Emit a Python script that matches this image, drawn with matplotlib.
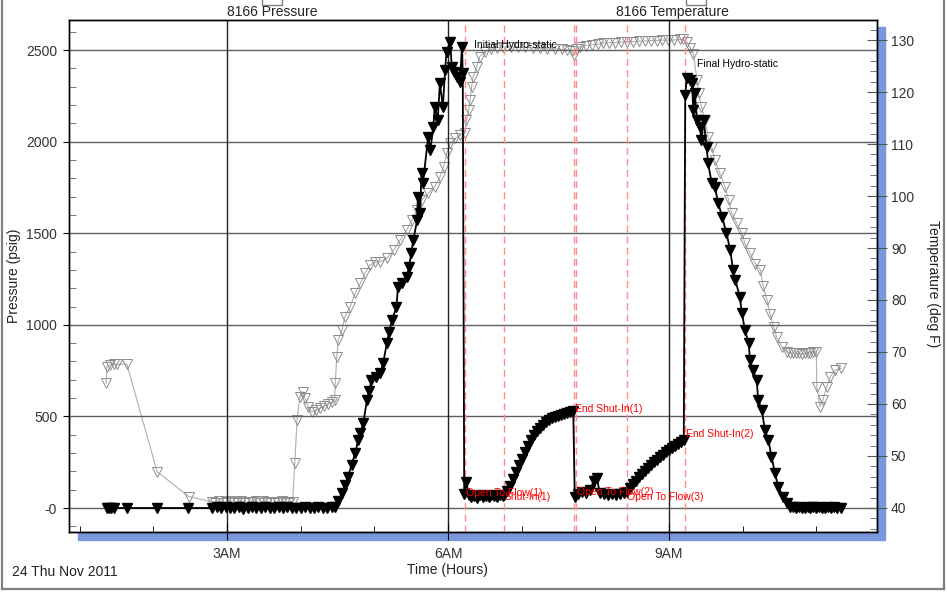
import matplotlib

matplotlib.use("Agg")
import matplotlib.pyplot as plt  # noqa: E402
from matplotlib.lines import Line2D  # noqa: E402
from matplotlib.patches import Rectangle  # noqa: E402
from matplotlib.ticker import FuncFormatter, MultipleLocator  # noqa: E402

plt.rcParams["font.family"] = ["Liberation Sans", "DejaVu Sans"]

# ---- pressure gauge 8166 (hours, psig), by test phase ----
pre_t = [1.37, 1.40, 1.43, 1.46, 1.64, 2.05, 2.47]
pre_p = [0, 0, 0, 0, 0, 0, 0]

surf_t = [2.80, 2.86, 2.92, 2.98, 3.04, 3.10, 3.16, 3.22, 3.28, 3.34, 3.40, 3.46, 3.52, 3.58,
          3.64, 3.70, 3.76, 3.82, 3.88, 3.94, 4.00, 4.06, 4.12, 4.18, 4.24, 4.30, 4.36, 4.42]
surf_p = [0, 3, -2, 5, 0, 2, 4, -3, 0, 3, 1, -2, 4, 0, 2, 5, -1, 3, 0, 2, -2, 4, 1, 0, 3, -1, 2, 5]

runin_t = [4.47, 4.51, 4.56, 4.60, 4.64, 4.69, 4.74, 4.78, 4.81, 4.85, 4.90, 4.93, 4.96, 5.02, 5.08,
           5.12, 5.17, 5.20, 5.24, 5.30, 5.32, 5.38, 5.44, 5.47, 5.50, 5.53, 5.58, 5.59, 5.62, 5.64,
           5.66, 5.73, 5.76, 5.80, 5.82, 5.86, 5.89, 5.93, 5.96, 5.98, 6.03, 6.05, 6.08, 6.12, 6.16,
           6.19, 6.20]
runin_p = [5, 40, 82, 125, 169, 235, 300, 371, 410, 464, 590, 640, 699, 715, 737,
           791, 901, 960, 1026, 1097, 1206, 1230, 1261, 1315, 1390, 1463, 1572, 1698, 1610, 1829,
           1774, 2025, 1954, 2080, 2189, 2118, 2320, 2189, 2391, 2491, 2545, 2409, 2380, 2354, 2327,
           2518, 2374]

flow1_t = [6.22, 6.25, 6.28, 6.31, 6.35, 6.39, 6.43, 6.47, 6.51, 6.55, 6.59, 6.63, 6.67, 6.71, 6.74]
flow1_p = [75, 143, 70, 60, 66, 55, 71, 62, 68, 58, 71, 64, 60, 70, 66]

shut1_t = [6.76, 6.80, 6.84, 6.88, 6.92, 6.96, 7.00, 7.05, 7.09, 7.13, 7.17, 7.21,
           7.25, 7.29, 7.33, 7.37, 7.41, 7.45, 7.49, 7.53, 7.57, 7.62, 7.66, 7.70]
shut1_p = [71, 93, 120, 158, 197, 235, 268, 306, 338, 371, 398, 420,
           437, 453, 469, 480, 491, 497, 502, 508, 513, 519, 524, 530]

flow2_t = [7.72, 7.77, 7.82, 7.87, 7.93, 7.98, 8.02, 8.06, 8.12, 8.17, 8.23, 8.28, 8.34, 8.39]
flow2_p = [60, 76, 87, 80, 100, 150, 164, 82, 76, 72, 76, 71, 76, 82]

shut2_t = [8.43, 8.47, 8.51, 8.55, 8.59, 8.63, 8.67, 8.72, 8.76, 8.80,
           8.84, 8.88, 8.92, 8.96, 9.00, 9.04, 9.08, 9.12, 9.16, 9.20]
shut2_p = [87, 109, 131, 147, 169, 186, 202, 218, 235, 251,
           262, 278, 289, 306, 317, 328, 338, 349, 360, 371]

pull_t = [9.22, 9.24, 9.29, 9.31, 9.33, 9.35, 9.38, 9.42, 9.44, 9.47, 9.51, 9.53, 9.58, 9.62,
          9.67, 9.72, 9.78, 9.83, 9.87, 9.90, 9.96, 9.99, 10.03, 10.08, 10.10, 10.14, 10.19,
          10.21, 10.26, 10.30, 10.35, 10.39, 10.44, 10.48, 10.55, 10.60, 10.64]
pull_p = [2255, 2346, 2336, 2318, 2173, 2264, 2118, 2082, 2009, 2118, 1972, 1882, 1773, 1754,
          1663, 1590, 1500, 1408, 1299, 1245, 1153, 1063, 971, 899, 808, 753, 699,
          590, 535, 426, 371, 280, 189, 116, 62, 30, 7]

post_t = [10.68, 10.72, 10.76, 10.80, 10.84, 10.88, 10.92, 10.96, 11.00, 11.04, 11.08,
          11.12, 11.16, 11.20, 11.24, 11.28, 11.34]
post_p = [3, 0, 5, 2, 0, 4, 1, 3, 0, 5, 2, 0, 3, 1, 4, 0, 2]

# ---- temperature gauge 8166 (hours, deg F) ----
tpre_t = [1.36, 1.37, 1.41, 1.46, 1.50, 1.64, 2.05, 2.48]
tpre_v = [64.0, 67.2, 67.5, 67.7, 67.6, 67.7, 47.0, 42.2]

tsurf_t = [2.79, 2.84, 2.89, 2.94, 2.99, 3.04, 3.09, 3.14, 3.19, 3.24, 3.29, 3.34,
           3.39, 3.44, 3.49, 3.54, 3.59, 3.64, 3.69, 3.74, 3.79, 3.84, 3.89]
tsurf_v = [41.2, 41.0, 41.3, 40.9, 41.1, 41.4, 41.0, 41.2, 41.3, 40.9, 41.1, 41.2,
           41.4, 41.0, 41.3, 41.1, 40.9, 41.2, 41.0, 41.3, 41.1, 40.9, 41.2]

trun_t = [3.92, 3.95, 3.99, 4.03, 4.06, 4.10, 4.15, 4.21, 4.26, 4.32, 4.37, 4.43, 4.46, 4.47,
          4.49, 4.51, 4.56, 4.60, 4.67, 4.74, 4.81, 4.87, 4.94, 5.01, 5.08, 5.17, 5.26, 5.35,
          5.44, 5.51, 5.58, 5.64, 5.73, 5.82, 5.89, 5.94, 5.98, 6.03, 6.10, 6.16, 6.23, 6.25,
          6.28, 6.30, 6.32, 6.34, 6.39, 6.43, 6.50]
trun_v = [48.6, 56.9, 61.4, 62.4, 61.1, 59.5, 58.5, 58.8, 59.2, 59.6, 60.0, 60.4, 60.8, 64.0,
          69.1, 72.3, 74.2, 76.8, 78.7, 81.3, 83.2, 85.1, 86.7, 87.3, 87.4, 88.0, 89.6, 91.5,
          93.5, 95.4, 97.3, 99.2, 100.5, 101.8, 103.7, 105.6, 108.2, 110.1, 111.1, 111.7, 112.1,
          114.6, 116.5, 118.5, 121.0, 122.9, 124.9, 126.8, 127.75]

tbot_t = [6.58, 6.66, 6.75, 6.85, 6.95, 7.05, 7.15, 7.25, 7.35, 7.45, 7.55, 7.62, 7.68, 7.71,
          7.75, 7.79, 7.87, 7.95, 8.03, 8.11, 8.19, 8.27, 8.35, 8.43, 8.51, 8.59, 8.67, 8.75,
          8.83, 8.91, 8.99, 9.07, 9.15, 9.19, 9.24, 9.29]
tbot_v = [128.2, 128.5, 128.7, 128.7, 128.6, 128.6, 128.5, 128.4, 128.3, 128.3, 128.2, 128.1,
          127.8, 127.1, 128.2, 128.7, 128.9, 129.1, 129.2, 129.4, 129.5, 129.5, 129.6, 129.7,
          129.7, 129.8, 129.8, 129.9, 129.9, 130.0, 130.0, 130.0, 130.1, 130.1, 129.7, 128.4]

tpull_t = [9.33, 9.38, 9.40, 9.44, 9.49, 9.53, 9.58, 9.62, 9.69, 9.76, 9.81, 9.85, 9.92, 9.99,
           10.03, 10.10, 10.17, 10.24, 10.28, 10.33, 10.37, 10.42, 10.46, 10.53, 10.60, 10.64,
           10.68, 10.72, 10.76, 10.80, 10.84, 10.88, 10.92, 10.96, 11.00, 11.005, 11.05, 11.09,
           11.14, 11.19, 11.25, 11.34]
tpull_v = [127.4, 122.3, 119.75, 117.2, 114.6, 111.4, 109.5, 106.9, 104.4, 101.8, 99.2, 96.7,
           94.75, 92.8, 90.9, 89.0, 87.0, 85.8, 82.6, 80.0, 77.4, 74.9, 72.9, 71.0, 70.05, 69.9,
           69.8, 69.8, 69.75, 69.7, 69.8, 69.8, 69.9, 70.0, 70.05, 63.3, 59.5, 60.8,
           63.3, 65.25, 66.5, 66.9]

# ---- test events ----
event_times = [6.231, 6.764, 7.710, 7.737, 8.426, 9.217]
red_labels = [("Open To Flow(1)", 6.244, 82), ("Shut-In(1)", 6.764, 60),
              ("End Shut-In(1)", 7.724, 540), ("Open To Flow(2)", 7.751, 87),
              ("Open To Flow(3)", 8.430, 58), ("End Shut-In(2)", 9.230, 404)]
black_labels = [("Initial Hydro-static", 6.353, 2528), ("Final Hydro-static", 9.380, 2424)]

p_time = pre_t + surf_t + runin_t + flow1_t + shut1_t + flow2_t + shut2_t + pull_t + post_t
p_val = pre_p + surf_p + runin_p + flow1_p + shut1_p + flow2_p + shut2_p + pull_p + post_p
t_time = tpre_t + tsurf_t + trun_t + tbot_t + tpull_t
t_val = tpre_v + tsurf_v + trun_v + tbot_v + tpull_v

W, H = 947, 592
fig = plt.figure(figsize=(W / 100, H / 100), dpi=100)


def fx(px):
    return px / W


def fy(py):
    return 1 - py / H


# drop shadow, border, clipped legend boxes
shadow = "#7a97dc"
fig.add_artist(Rectangle((fx(877), fy(540)), fx(8), (540 - 27) / H, transform=fig.transFigure,
                         color=shadow, zorder=-1))
fig.add_artist(Rectangle((fx(78), fy(540)), fx(877 - 78), 8 / H, transform=fig.transFigure,
                         color=shadow, zorder=-1))
for x0, x1, y0, y1 in [(2, 2, 0, 589), (944, 944, 0, 589), (2, 944, 589, 589)]:
    fig.add_artist(Line2D([fx(x0), fx(x1)], [fy(y0), fy(y1)], transform=fig.transFigure,
                          color="#808080", lw=1.6))
for bx in (262, 686):
    fig.add_artist(Rectangle((fx(bx), fy(5)), fx(20), 10 / H, transform=fig.transFigure,
                             facecolor="white", edgecolor="#808080", lw=1))

ax = fig.add_axes([fx(69), fy(532), fx(877 - 69), (532 - 20) / H])
ax2 = ax.twinx()
ax.set_zorder(ax2.get_zorder() + 1)
ax.patch.set_visible(False)
ax2.patch.set_facecolor("white")

ax.set_xlim(0.855, 11.823)
ax.set_ylim(-131, 2664)
ax2.set_ylim(35.38, 133.85)

for v in range(0, 2501, 500):
    ax.axhline(v, color="#606060", lw=1, zorder=0.5)
for v in (3, 6, 9):
    ax.axvline(v, color="#222222", lw=1, zorder=0.5)
for v in event_times:
    ax.axvline(v, color="#ff8c8c", lw=1, ls=(0, (5, 3)), zorder=0.6)

ax2.plot(t_time, t_val, color="#b0b0b0", lw=0.8, marker="v", ms=7, mfc="none",
         mec="#8c8c8c", mew=0.7)
ax.plot(p_time, p_val, color="black", lw=1.3, marker="v", ms=7, mfc="black", mec="black")

for txt, x, y in red_labels:
    ax.text(x, y, txt, color="red", fontsize=7.5, ha="left", va="center")
for txt, x, y in black_labels:
    ax.text(x, y, txt, color="black", fontsize=7.5, ha="left", va="center")

# axes, ticks
ax.set_xticks([3, 6, 9], labels=["3AM", "6AM", "9AM"])
ax.xaxis.set_minor_locator(MultipleLocator(1))
ax.set_yticks(range(0, 2501, 500))
ax.yaxis.set_major_formatter(FuncFormatter(lambda v, _: "-0" if v == 0 else f"{v:.0f}"))
ax.yaxis.set_minor_locator(MultipleLocator(100))
ax2.set_yticks(range(40, 131, 10))
ax2.yaxis.set_minor_locator(MultipleLocator(2))

lab = "#333333"
ax.tick_params(axis="x", which="major", direction="inout", length=12, pad=5, labelsize=10,
               labelcolor=lab, top=False)
ax.tick_params(axis="x", which="minor", direction="in", length=4.5, top=False)
ax.tick_params(axis="y", which="major", direction="out", length=4.5, pad=4, labelsize=10,
               labelcolor=lab, right=False)
ax.tick_params(axis="y", which="minor", direction="in", length=5, color="#666666", right=False)
ax2.tick_params(axis="y", which="major", direction="inout", length=14, pad=3, labelsize=10,
                labelcolor=lab, color="#555555")
ax2.tick_params(axis="y", which="minor", direction="in", length=5, color="#666666")
ax2.tick_params(axis="x", bottom=False, top=False, labelbottom=False)
for a in (ax, ax2):
    for s in a.spines.values():
        s.set_color("black")
        s.set_linewidth(1)

fig.text(fx(272), fy(12), "8166 Pressure", ha="center", va="center", fontsize=10, color="#222")
fig.text(fx(672), fy(12), "8166 Temperature", ha="center", va="center", fontsize=10,
         color="#222")
fig.text(fx(14), fy(276), "Pressure (psig)", rotation=90, ha="center", va="center",
         fontsize=10, color="#222")
fig.text(fx(933), fy(284), "Temperature (deg F)", rotation=-90, ha="center", va="center",
         fontsize=10, color="#222")
fig.text(fx(447), fy(570), "Time (Hours)", ha="center", va="center", fontsize=10, color="#222")
fig.text(fx(12), fy(572), "24 Thu Nov 2011", ha="left", va="center", fontsize=10, color="#222")

fig.savefig("out.png", dpi=100, facecolor="white")
